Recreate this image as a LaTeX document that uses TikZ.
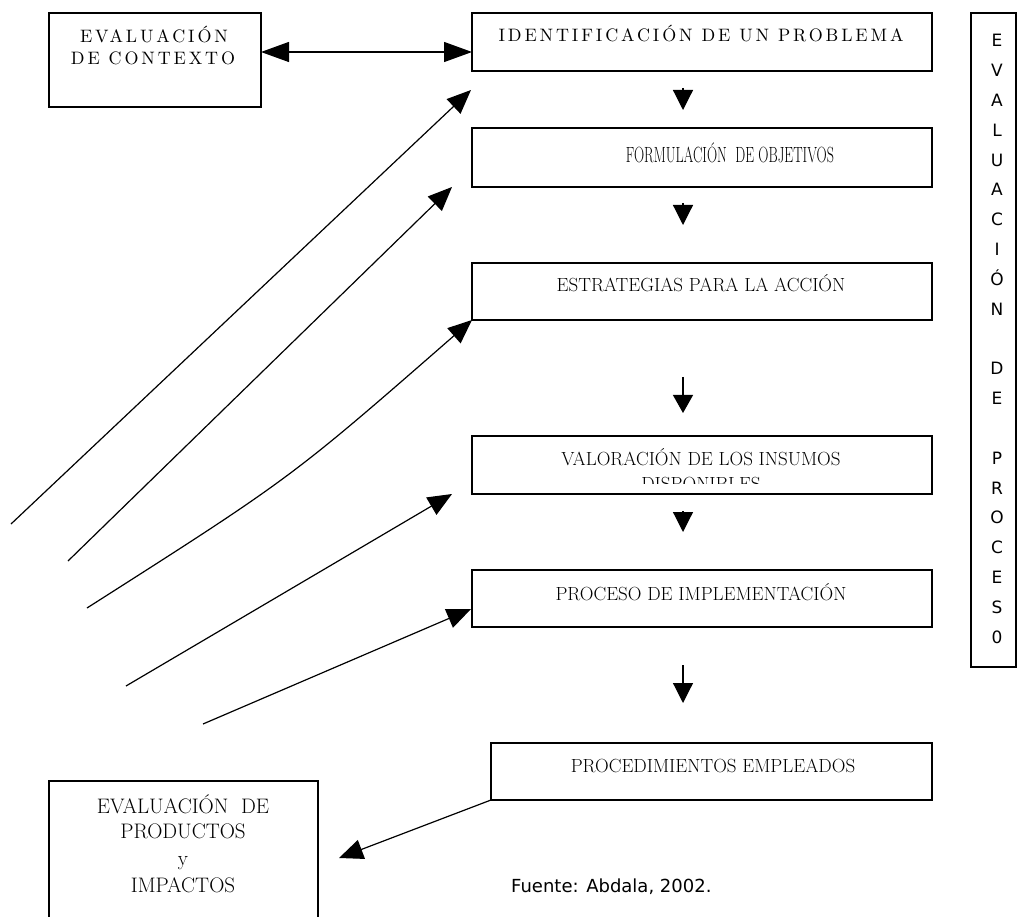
\documentclass[tikz,border=0pt]{standalone}
\usepackage{fontspec}
\usepackage{graphicx}
\usetikzlibrary{arrows.meta}
\newfontfamily\spfont[LetterSpace=16]{lmroman10-regular.otf}
\newfontfamily\cmfont{DejaVu Sans}
\newcommand\bxfont{\fontsize{19}{23}\selectfont}
\newcommand\prfont{\fontsize{21}{26}\selectfont}
\begin{document}
\begin{tikzpicture}[x=1pt,y=-1pt,
  bx/.style={draw, line width=1.3pt, inner sep=0pt, outer sep=0pt},
  lbl/.style={inner sep=0pt, outer sep=0pt, anchor=base, font=\bxfont},
  sptxt/.style={inner sep=0pt, outer sep=0pt, anchor=base, font=\spfont\fontsize{18}{21}\selectfont},
  vletter/.style={inner sep=0pt, anchor=base, font=\cmfont\fontsize{17}{20}\selectfont},
  ln/.style={line width=1.2pt},
  bigtip/.style={ln, -{Triangle[length=24pt,width=20pt]}},
  dnarrow/.style={ln, -{Triangle[length=20pt,width=20pt]}},
  dblarrow/.style={ln, {Triangle[length=28pt,width=20pt]}-{Triangle[length=28pt,width=20pt]}}
]
\useasboundingbox (0,0) rectangle (1018,917);
\fill[white] (0,0) rectangle (1018,917);

% boxes
\node[bx, minimum width=212pt, minimum height=94pt] (ctx) at (155,60) {};
\node[bx, minimum width=460pt, minimum height=58pt] (ident) at (702,42) {};
\node[bx, minimum width=460pt, minimum height=59pt] (form) at (702,157.5) {};
\node[bx, minimum width=460pt, minimum height=57pt] (estr) at (702,291.5) {};
\node[bx, minimum width=460pt, minimum height=58pt] (valo) at (702,465) {};
\node[bx, minimum width=460pt, minimum height=57pt] (proc) at (702,598.5) {};
\node[bx, minimum width=441pt, minimum height=57pt] (pemp) at (711.5,771.5) {};
\node[bx, minimum width=45pt, minimum height=654pt] (evp) at (993.5,340) {};
\node[bx, minimum width=269pt, minimum height=158pt] (prod) at (183.5,860) {};

% texts
\node[sptxt] (ctx1) at (154,43) {EVALUACIÓN};
\node[sptxt] (ctx2) at (153,65) {DE CONTEXTO};
\node[sptxt] (identt) at (701,42) {IDENTIFICACIÓN DE UN PROBLEMA};
\node[lbl] (formt) at (730,163) {\scalebox{0.64}[1]{\fontsize{22}{26}\selectfont FORMULACIÓN\ \ DE OBJETIVOS}};
\node[lbl] (estrt) at (701,292) {ESTRATEGIAS PARA LA ACCIÓN};
\begin{scope}
  \clip (472,436) rectangle (932,483);
  \node[lbl] (valot1) at (701,465) {VALORACIÓN DE LOS INSUMOS};
  \node[lbl] (valot2) at (701,490) {DISPONIBLES};
\end{scope}
\node[lbl] (proct) at (701,600) {PROCESO DE IMPLEMENTACIÓN};
\node[lbl] (pempt) at (713,772) {PROCEDIMIENTOS EMPLEADOS};
\node[lbl, font=\prfont] (prod1) at (183,813) {EVALUACIÓN\ \ DE};
\node[lbl, font=\prfont] (prod2) at (183,838) {PRODUCTOS};
\node[lbl, font=\prfont] (prod3) at (183,865) {y};
\node[lbl, font=\prfont] (prod4) at (183,892) {IMPACTOS};
\node[inner sep=0pt, anchor=base west, font=\cmfont\fontsize{18}{22}\selectfont] (src) at (511,892) {Fuente: Abdala, 2002.};

% vertical text
\foreach \ch [count=\i from 0] in {E,V,A,L,U,A,C,I,Ó,N,{},D,E,{},P,R,O,C,E,S,0}
  \node[vletter] (v\i) at (997,{47+29.8*\i}) {\ch};

% double arrow
\draw[dblarrow] (ctx.east |- 0,52) -- (ident.west |- 0,52);

% down arrows
\coordinate (d1a) at (683,88);  \coordinate (d1b) at (683,110);
\coordinate (d2a) at (683,203); \coordinate (d2b) at (683,225);
\coordinate (d3a) at (683,377); \coordinate (d3b) at (683,413);
\coordinate (d4a) at (683,511); \coordinate (d4b) at (683,532);
\coordinate (d5a) at (683,665); \coordinate (d5b) at (683,703);
\draw[dnarrow] (d1a) -- (d1b);
\draw[dnarrow] (d2a) -- (d2b);
\draw[ln, -{Triangle[length=18pt,width=20pt]}] (d3a) -- (d3b);
\draw[dnarrow] (d4a) -- (d4b);
\draw[ln, -{Triangle[length=20pt,width=20pt]}] (d5a) -- (d5b);

% diagonal arrows
\coordinate (l1s) at (11,524);  \coordinate (l1e) at (471,90);
\coordinate (l2s) at (68,561);  \coordinate (l2e) at (452,187);
\coordinate (l3s) at (87,608);  \coordinate (l3c) at (291,478);
\coordinate (l4s) at (126,686); \coordinate (l4e) at (452,494);
\coordinate (l5s) at (203,724); \coordinate (l5e) at (471,609);
\draw[bigtip] (l1s) -- (l1e);
\draw[bigtip] (l2s) -- (l2e);
\draw[bigtip] (l3s) .. controls (l3c) .. (estr.south west);
\draw[bigtip] (l4s) -- (l4e);
\draw[bigtip] (l5s) -- (l5e);

% to productos
\coordinate (pt) at (339,858);
\draw[bigtip] (pemp.south west) -- (pt);
\end{tikzpicture}
\end{document}
